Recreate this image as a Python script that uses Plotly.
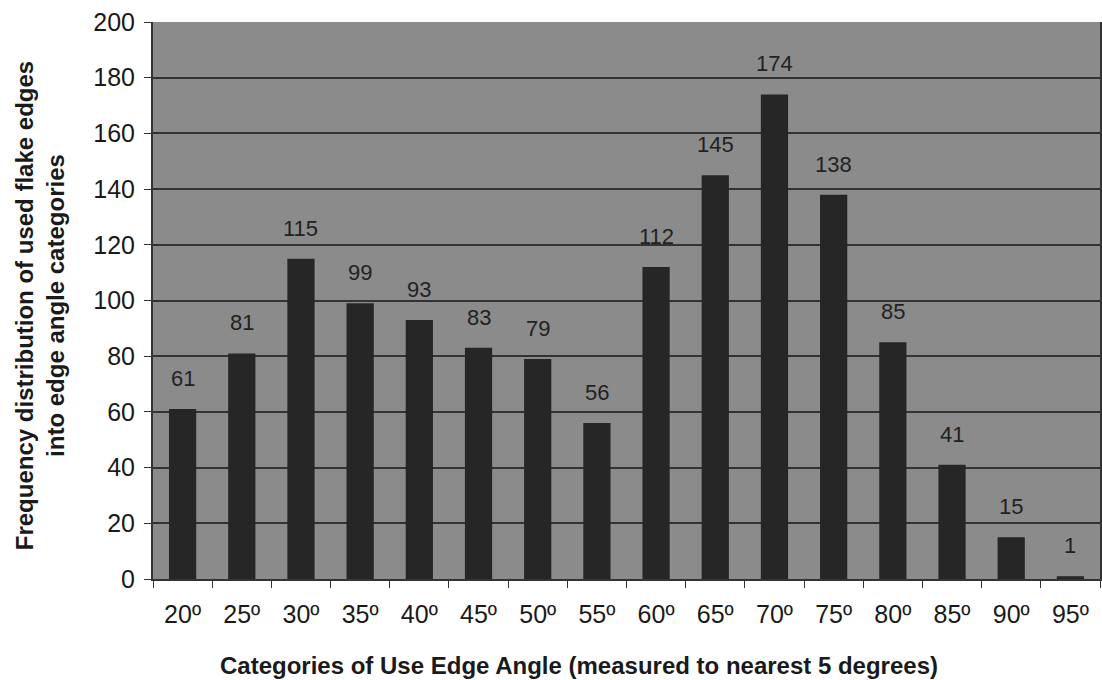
import plotly.graph_objects as go

categories = ["20º", "25º", "30º", "35º", "40º", "45º", "50º", "55º",
              "60º", "65º", "70º", "75º", "80º", "85º", "90º", "95º"]
values = [61, 81, 115, 99, 93, 83, 79, 56, 112, 145, 174, 138, 85, 41, 15, 1]
y_ticks = list(range(0, 201, 20))

FONT = "Liberation Sans, Arial, sans-serif"

fig = go.Figure(go.Bar(
    x=categories, y=values, width=0.46,
    marker=dict(color="#262626", line=dict(width=0)),
))

for c, v in zip(categories, values):
    fig.add_annotation(x=c, y=v, text=str(v), showarrow=False,
                       yanchor="bottom", yshift=16,
                       font=dict(family=FONT, size=22, color="#222222"))

# axis titles as paper annotations
fig.add_annotation(xref="paper", yref="paper", x=(580 - 153) / 949, y=-(665 - 579) / 557,
                   xanchor="center", yanchor="middle", showarrow=False,
                   text="<b>Categories of Use Edge Angle (measured to nearest 5 degrees)</b>",
                   font=dict(family=FONT, size=24, color="#1a1a1a"))
fig.add_annotation(xref="paper", yref="paper", x=-(153 - 40) / 949, y=(579 - 306) / 557,
                   xanchor="center", yanchor="middle", showarrow=False, textangle=-90,
                   text="<b>Frequency distribution of used flake edges<br>into edge angle categories</b>",
                   font=dict(family=FONT, size=24, color="#1a1a1a"))

fig.update_layout(
    width=1102, height=680,
    margin=dict(l=153, r=0, t=22, b=101),
    paper_bgcolor="white", plot_bgcolor="#8b8b8b",
    showlegend=False,
    font=dict(family=FONT, size=25, color="#1a1a1a"),
    xaxis=dict(
        type="category", tickson="boundaries", ticks="outside", ticklen=7,
        tickcolor="#333", showgrid=False, showline=True, linecolor="#333",
        linewidth=2, tickfont=dict(size=25), ticklabelstandoff=12,
    ),
    yaxis=dict(
        range=[0, 200], tickvals=y_ticks, ticks="outside", ticklen=7,
        tickcolor="#333", showgrid=True, gridcolor="#333333", gridwidth=1.5,
        showline=True, linecolor="#333", linewidth=2, mirror=True,
        tickfont=dict(size=25), zeroline=False, ticklabelstandoff=4,
    ),
)

fig.write_html("out.html")
